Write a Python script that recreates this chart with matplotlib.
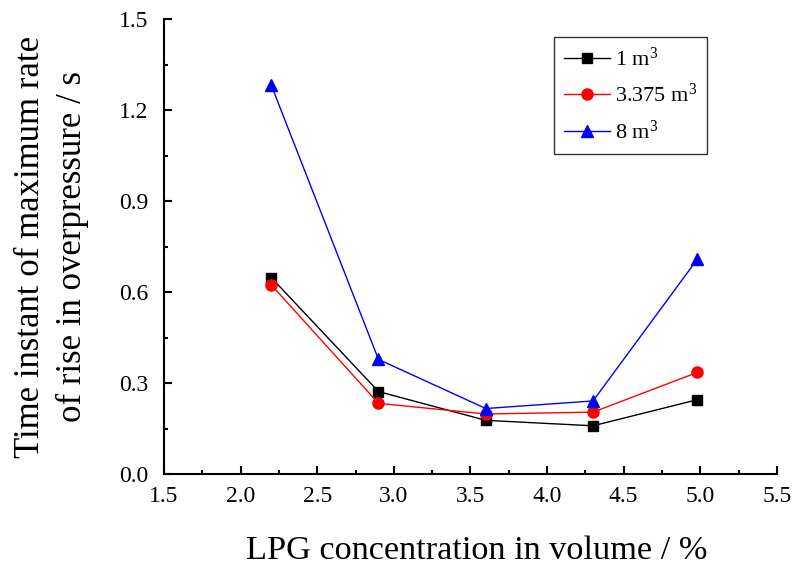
import matplotlib.pyplot as plt
from matplotlib.ticker import MultipleLocator

plt.rcParams['font.family'] = ['Liberation Serif', 'DejaVu Serif']
plt.rcParams['mathtext.fontset'] = 'custom'
plt.rcParams['mathtext.rm'] = 'Liberation Serif'
plt.rcParams['mathtext.it'] = 'Liberation Serif:italic'

concentration = [2.2, 2.9, 3.6, 4.3, 4.98]
vol_1 = [0.648, 0.272, 0.177, 0.159, 0.245]
vol_3375 = [0.624, 0.233, 0.198, 0.204, 0.335]
vol_8 = [1.283, 0.378, 0.216, 0.241, 0.708]

fig = plt.figure(figsize=(7.96, 5.68), dpi=100)
ax = fig.add_axes([0.206, 0.1655, 0.77, 0.8005])

ax.plot(concentration, vol_1, color='black', marker='s', markersize=7, linewidth=1, label=r'1 m$^3$')
ax.plot(concentration, vol_3375, color='red', marker='o', markersize=8, linewidth=1, label=r'3.375 m$^3$')
ax.plot(concentration, vol_8, color='blue', marker='^', markersize=8, linewidth=1, label=r'8 m$^3$')

ax.set_xlim(1.5, 5.5)
ax.set_ylim(0, 1.5)
ax.xaxis.set_major_locator(MultipleLocator(0.5))
ax.xaxis.set_minor_locator(MultipleLocator(0.25))
ax.yaxis.set_major_locator(MultipleLocator(0.3))
ax.yaxis.set_minor_locator(MultipleLocator(0.15))
ax.xaxis.set_major_formatter(plt.FormatStrFormatter('%.1f'))
ax.yaxis.set_major_formatter(plt.FormatStrFormatter('%.1f'))

for side in ['top', 'right']:
    ax.spines[side].set_visible(False)
for side in ['left', 'bottom']:
    ax.spines[side].set_linewidth(1.5)

ax.tick_params(which='major', direction='in', length=6, width=1.5, labelsize=17, pad=9)
ax.tick_params(which='minor', direction='in', length=3, width=1.5)
ax.tick_params(axis='y', which='major', pad=11)

ax.set_xlabel('LPG concentration in volume / %', fontsize=24.7, labelpad=20)
ax.xaxis.label.set_x(0.51)
ax.set_ylabel('Time instant of maximum rate\nof rise in overpressure / s', fontsize=25,
              labelpad=22, linespacing=1.35)

leg = ax.legend(loc='upper right', bbox_to_anchor=(0.886, 0.96), fontsize=16, frameon=True,
                fancybox=False, edgecolor='black', handlelength=2.1, borderpad=0.45,
                labelspacing=0.6, handletextpad=0.2, borderaxespad=0)
leg.get_frame().set_linewidth(1)

plt.savefig('out.png')
